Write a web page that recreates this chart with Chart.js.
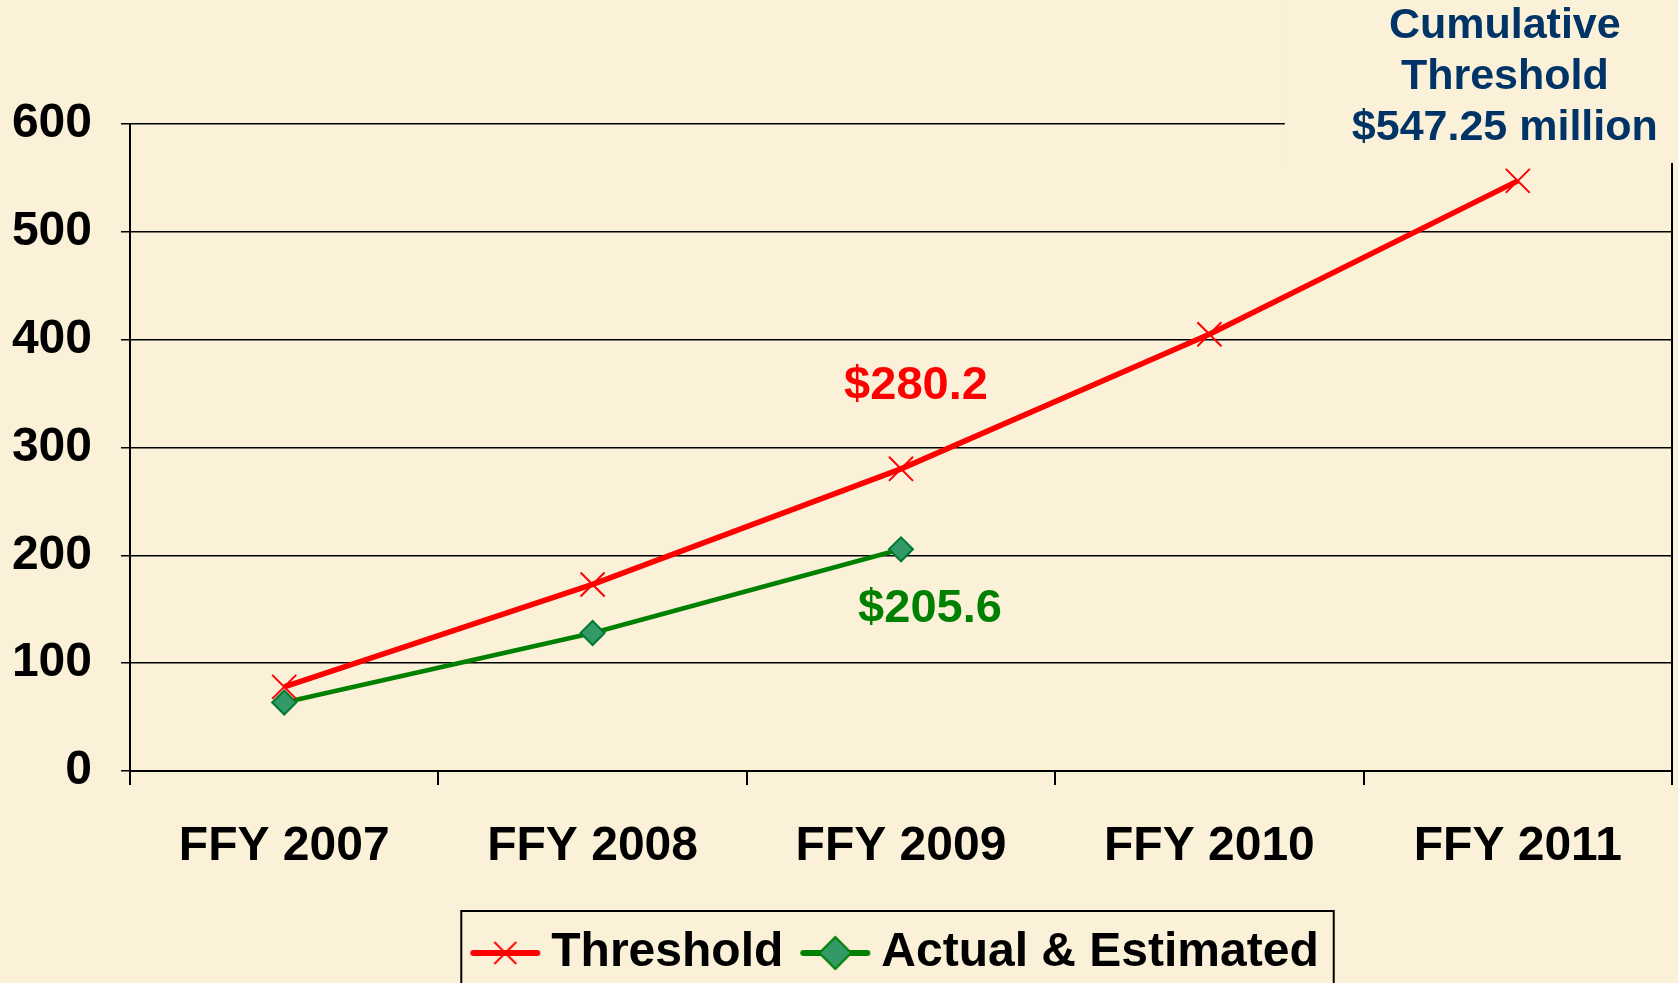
<!DOCTYPE html>
<html lang="en">
<head>
<meta charset="UTF-8">
<title>Cumulative Threshold</title>
<script src="https://cdn.jsdelivr.net/npm/chart.js@4.4.1/dist/chart.umd.min.js"></script>
<style>
  html, body { margin: 0; padding: 0; background: #fbf1d9; }
</style>
</head>
<body>
<canvas id="myChart" width="1678" height="983"></canvas>
<script>
// values (millions of dollars)
const years     = ['FFY 2007', 'FFY 2008', 'FFY 2009', 'FFY 2010', 'FFY 2011'];
const threshold = [78, 173, 280.2, 405, 547.25];
const actual    = [63.5, 128, 205.6, null, null];
const yMin = 0, yMax = 600, yStep = 100;

const BG = '#fbf1d9';
const FONT = "'Liberation Sans', Arial, Helvetica, sans-serif";
const RED = '#ff0000', GREEN = '#008000', DIAMOND = '#339966', NAVY = '#003366';

// small line+marker pictures for the legend
function legendIcon(color, fill, shape) {
    const c = document.createElement('canvas');
    c.width = 72; c.height = 36;
    const g = c.getContext('2d');
    g.strokeStyle = color; g.lineWidth = 6; g.lineCap = 'round';
    g.beginPath(); g.moveTo(4, 18); g.lineTo(68, 18); g.stroke();
    g.lineWidth = 2; g.lineCap = 'butt';
    if (shape === 'x') {
        g.beginPath();
        g.moveTo(25, 7); g.lineTo(47, 29);
        g.moveTo(47, 7); g.lineTo(25, 29);
        g.stroke();
    } else {
        g.fillStyle = fill;
        g.beginPath();
        g.moveTo(20, 18); g.lineTo(36, 2); g.lineTo(52, 18); g.lineTo(36, 34);
        g.closePath(); g.fill(); g.stroke();
    }
    return c;
}
const icons = [legendIcon(RED, RED, 'x'), legendIcon(GREEN, DIAMOND, 'd')];

const bgPlugin = {
    id: 'bg',
    beforeDraw(chart) {
        const ctx = chart.ctx;
        ctx.save();
        ctx.fillStyle = BG;
        ctx.fillRect(0, 0, chart.width, chart.height);
        ctx.restore();
    }
};

const notesPlugin = {
    id: 'notes',
    afterDraw(chart) {
        const ctx = chart.ctx;
        const tMeta = chart.getDatasetMeta(0).data;
        const aMeta = chart.getDatasetMeta(1).data;
        ctx.save();
        ctx.textAlign = 'center';
        ctx.textBaseline = 'middle';

        // value callouts
        ctx.font = 'bold 47px ' + FONT;
        ctx.fillStyle = RED;
        ctx.fillText('$' + threshold[2], tMeta[2].x + 15, tMeta[2].y - 83);
        ctx.fillStyle = GREEN;
        ctx.fillText('$' + actual[2], aMeta[2].x + 29, aMeta[2].y + 60);

        // cumulative note over the top right corner
        const last = tMeta[4];
        ctx.fillStyle = BG;
        ctx.fillRect(last.x - 233, 0, chart.width, last.y - 18);
        ctx.fillStyle = NAVY;
        ctx.font = 'bold 43px ' + FONT;
        ctx.fillText('Cumulative', last.x - 13, last.y - 155);
        ctx.fillText('Threshold', last.x - 13, last.y - 104);
        ctx.fillText('$' + threshold[4] + ' million', last.x - 13, last.y - 53);

        // legend frame
        const lg = chart.legend;
        if (lg && lg.legendHitBoxes.length) {
            const hb = lg.legendHitBoxes;
            const left = Math.min(...hb.map(h => h.left)) - 22;
            const right = Math.max(...hb.map(h => h.left + h.width)) + 15;
            const top = lg.top + 12;
            ctx.strokeStyle = '#000';
            ctx.lineWidth = 2;
            ctx.strokeRect(left, top, right - left, chart.height + 10 - top);
        }
        ctx.restore();
    }
};

const ctx = document.getElementById('myChart').getContext('2d');
const myChart = new Chart(ctx, {
    type: 'line',
    data: {
        labels: years,
        datasets: [{
            label: 'Threshold',
            data: threshold,
            borderColor: RED,
            backgroundColor: RED,
            borderWidth: 5.5,
            pointStyle: 'crossRot',
            pointRadius: 17,
            pointBorderWidth: 2,
            pointBorderColor: RED,
            tension: 0,
            fill: false
        }, {
            label: 'Actual & Estimated',
            data: actual,
            borderColor: GREEN,
            backgroundColor: DIAMOND,
            borderWidth: 4.5,
            pointStyle: 'rectRot',
            pointRadius: 12,
            pointBorderWidth: 2,
            pointBorderColor: '#007a33',
            pointBackgroundColor: DIAMOND,
            tension: 0,
            fill: false
        }]
    },
    options: {
        responsive: false,
        animation: false,
        devicePixelRatio: 1,
        layout: { autoPadding: false, padding: { top: 124, right: 6, left: 0, bottom: -4 } },
        scales: {
            x: {
                offset: true,
                afterFit: s => { s.height = 128; s.paddingLeft = 0; s.paddingRight = 0; },
                grid: {
                    offset: true,
                    drawOnChartArea: true,
                    color: c => c.type === 'scale' ? '#000' : 'rgba(0,0,0,0)',
                    tickColor: '#000',
                    tickLength: 14,
                    lineWidth: 2
                },
                border: { color: '#000', width: 2 },
                ticks: {
                    color: '#000',
                    padding: 33,
                    maxRotation: 0,
                    autoSkip: false,
                    font: { family: FONT, size: 48, weight: 'bold' }
                }
            },
            y: {
                min: yMin,
                max: yMax,
                afterFit: s => { s.width = 130; },
                grid: { color: '#000', lineWidth: 1.5, tickLength: 9 },
                border: { color: '#000', width: 2 },
                ticks: {
                    stepSize: yStep,
                    color: '#000',
                    padding: 29,
                    font: { family: FONT, size: 48, weight: 'bold' }
                }
            }
        },
        plugins: {
            tooltip: { enabled: false },
            legend: {
                position: 'bottom',
                fullSize: false,
                labels: {
                    usePointStyle: true,
                    pointStyleWidth: 44,
                    padding: 30,
                    color: '#000',
                    font: { family: FONT, size: 48, weight: 'bold' },
                    generateLabels: chart => {
                        const items = Chart.defaults.plugins.legend.labels.generateLabels(chart);
                        items.forEach((it, i) => { it.pointStyle = icons[i]; });
                        return items;
                    }
                }
            }
        }
    },
    plugins: [bgPlugin, notesPlugin]
});
</script>
</body>
</html>
